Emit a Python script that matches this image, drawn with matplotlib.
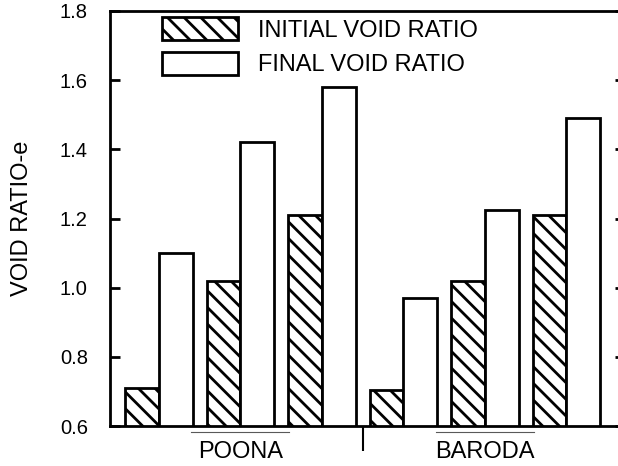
import matplotlib
matplotlib.use("Agg")
import matplotlib.pyplot as plt
import numpy as np

plt.rcParams['font.family'] = ['Liberation Sans', 'DejaVu Sans']
plt.rcParams['hatch.linewidth'] = 2.0
plt.rcParams['hatch.color'] = 'black'

# void ratio before and after swelling, three samples per site
sites = ['POONA', 'BARODA']
initial_e = [0.71, 1.02, 1.21, 0.705, 1.02, 1.21]
final_e = [1.10, 1.42, 1.58, 0.97, 1.225, 1.49]
yticks = [0.6, 0.8, 1.0, 1.2, 1.4, 1.6, 1.8]

fig = plt.figure(figsize=(6.18, 4.66), dpi=100)
ax = fig.add_axes([110/618, 40/466, 515/618, 415/466])

x = np.arange(len(initial_e))
w = 0.415
ax.bar(x - w/2, initial_e, w, color='white', edgecolor='black',
       linewidth=2.0, hatch='\\\\', label='INITIAL VOID RATIO')
ax.bar(x + w/2, final_e, w, color='white', edgecolor='black',
       linewidth=2.0, label='FINAL VOID RATIO')

ax.set_xlim(-0.6, 5.72)
ax.set_ylim(0.6, 1.8)
ax.set_yticks(yticks)
ax.set_yticklabels([f'{v:.1f}' for v in yticks], fontsize=14.5)
ax.tick_params(axis='y', direction='in', length=7, width=2.0, pad=16,
               right=True)

# site names under each group of three, separator tick between groups
ax.set_xticks([1, 4])
ax.set_xticklabels(sites, fontsize=17)
ax.set_xticks([2.5], minor=True)
ax.tick_params(axis='x', which='major', length=0, pad=11)
ax.tick_params(axis='x', which='minor', direction='out', length=18, width=1.5)

for c in [1, 4]:
    ax.plot([c - 0.6, c + 0.6], [-0.014, -0.014], color='0.35', lw=0.8,
            transform=ax.get_xaxis_transform(), clip_on=False)

for s in ax.spines.values():
    s.set_linewidth(2.0)

ax.set_ylabel('VOID RATIO-e', fontsize=17)
ax.yaxis.set_label_coords(-0.150, 0.5)

ax.legend(loc='upper left', bbox_to_anchor=(52/515, 1 - 6/415), frameon=False,
          fontsize=17, handlelength=3.22, handleheight=1.15, labelspacing=0.42,
          handletextpad=0.85, borderpad=0, borderaxespad=0)

fig.savefig('out.png', dpi=100)
